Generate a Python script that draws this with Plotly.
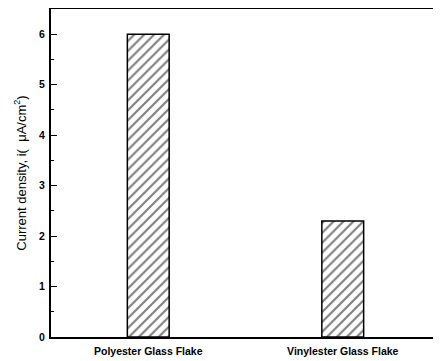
import plotly.graph_objects as go

categories = ["Polyester Glass Flake", "Vinylester Glass Flake"]
values = [6.0, 2.3]
y_ticks = [0, 1, 2, 3, 4, 5, 6]

fig = go.Figure()
fig.add_trace(go.Bar(
    x=[0, 1], y=values, width=0.215,
    marker=dict(color="white", line=dict(color="black", width=1.5),
                pattern=dict(shape="/", fgcolor="black", bgcolor="white",
                             size=7, solidity=0.3)),
))
fig.update_layout(
    width=433, height=353,
    margin=dict(l=43, r=1, t=1, b=24),
    plot_bgcolor="white", paper_bgcolor="white",
    showlegend=False,
    font=dict(family="Liberation Sans, Arial, sans-serif", color="black"),
)
fig.update_xaxes(
    range=[-0.5, 1.5], tickvals=[0, 1], ticktext=categories,
    showgrid=False, zeroline=False, showline=True, linecolor="black",
    linewidth=2, mirror=True, ticks="", automargin=False, ticklabelstandoff=3,
    tickfont=dict(size=10.5, family="Liberation Sans, Arial, sans-serif", weight="bold"),
)
fig.update_yaxes(
    range=[0, 6.5], tickvals=y_ticks, showgrid=False, zeroline=False,
    showline=True, linecolor="black", linewidth=2, automargin=False,
    ticks="inside", ticklen=6, tickwidth=1.2, tickcolor="black",
    minor=dict(dtick=0.5, ticks="inside", ticklen=3, tickcolor="black", tickwidth=1),
    tickfont=dict(size=10.5, weight="bold"), ticklabelstandoff=2,
    title=dict(text="Current density, i(  μA/cm<sup>2</sup>)", font=dict(size=13), standoff=10),
)
fig.write_html("out.html")
